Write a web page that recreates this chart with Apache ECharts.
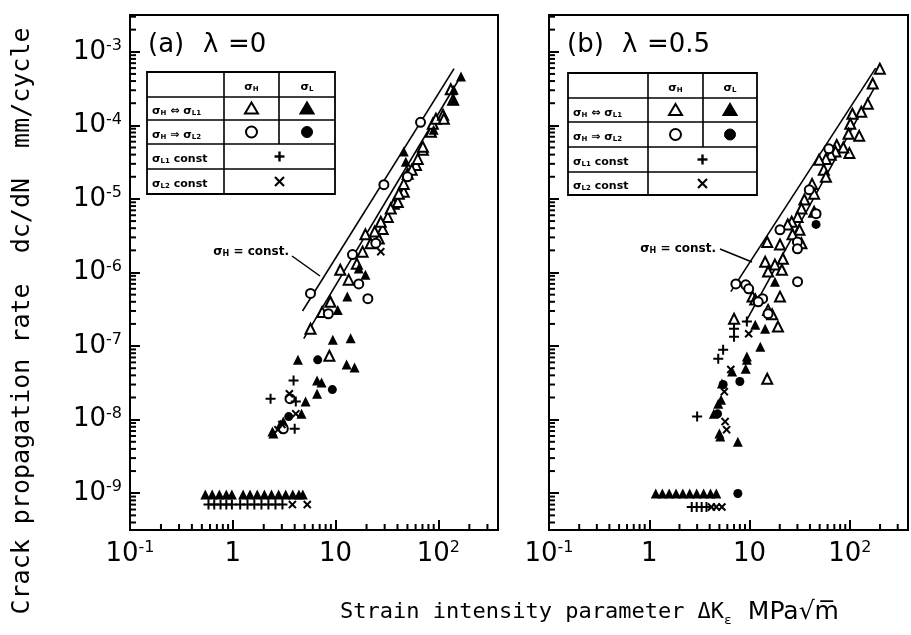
<!DOCTYPE html>
<html><head><meta charset="utf-8">
<script src="https://cdn.jsdelivr.net/npm/echarts@6/dist/echarts.min.js"></script>
<style>html,body{margin:0;padding:0;background:#fff}#c{width:911px;height:635px}</style>
</head><body><div id="c"></div>
<script>
// ---------- axis ticks ----------
const xTickValues = [0.1, 1, 10, 100];
const xTickLabels = ['{a|10}{b|-1}', '{a|1}', '{a|10}', '{a|10}{b|2}'];
const yTickValues = [1e-9, 1e-8, 1e-7, 1e-6, 1e-5, 1e-4, 1e-3];
const yTickLabels = ['{a|10}{b|-9}', '{a|10}{b|-8}', '{a|10}{b|-7}', '{a|10}{b|-6}', '{a|10}{b|-5}', '{a|10}{b|-4}', '{a|10}{b|-3}'];
const xRange = [0.1, 380];
const yRange = [3.162e-10, 3.162e-3];

// ---------- panel (a) lambda = 0 ----------
const aOpenTri = [[5.7,1.72e-7],[7.4,2.9e-7],[8.9,4.0e-7],[11.1,1.09e-6],[13.4,8.0e-7],[18.3,1.92e-6],[19.5,3.3e-6],[21.9,2.5e-6],[26.3,2.9e-6],[28.7,3.9e-6],[32.2,5.7e-6],[27.5,4.9e-6],[36.8,8.6e-6],[40.3,9.1e-6],[46,1.25e-5],[46,1.6e-5],[50.3,2.2e-5],[60.5,2.9e-5],[63,3.5e-5],[70.6,4.66e-5],[70.6,5.1e-5],[84.5,8.2e-5],[88.2,1.05e-4],[94.6,1.23e-4],[111,1.39e-4],[113,1.23e-4],[139,2.23e-4],[132,3.1e-4],[8.7,7.4e-8],[16.1,1.32e-6],[24,3.6e-6],[34.4,7.4e-6],[41.2,1.18e-5],[55,2.5e-5]];
const aFillTri = [[46,4.4e-5],[48.2,3.2e-5],[166,4.6e-4],[141,3.05e-4],[141,2.2e-4],[90,8.7e-5],[16.8,1.13e-6],[19.5,9.3e-7],[13,4.7e-7],[9.4,1.22e-7],[14,1.28e-7],[10.5,3.1e-7],[12.8,5.6e-8],[15.3,5.1e-8],[6.6,3.4e-8],[7.3,3.2e-8],[6.6,2.25e-8],[5.1,1.76e-8],[4.66,1.2e-8],[3.1,9.4e-9],[2.9,8.6e-9],[2.48,6.5e-9],[2.43,6.9e-9],[4.3,6.5e-8],
  [0.54,9.6e-10],[0.63,9.6e-10],[0.74,9.6e-10],[0.865,9.6e-10],[0.98,9.6e-10],[1.26,9.6e-10],[1.47,9.6e-10],[1.73,9.6e-10],[2.03,9.6e-10],[2.38,9.6e-10],[2.79,9.6e-10],[3.27,9.6e-10],[3.83,9.6e-10],[4.4,9.6e-10],[4.8,9.6e-10]];
const aOpenCirc = [[67,1.1e-4],[29.5,1.56e-5],[14.6,1.75e-6],[5.7,5.2e-7],[8.5,2.75e-7],[16.8,7.0e-7],[20.6,4.4e-7],[24.6,2.5e-6],[50,2.0e-5],[3.6,1.93e-8],[3.1,7.5e-9]];
const aFillCirc = [[6.7,6.5e-8],[9.3,2.56e-8],[3.5,1.1e-8]];
const aPlus = [[3.9,3.4e-8],[2.33,1.93e-8],[4.1,1.76e-8],[4.0,7.5e-9],
  [0.58,7.0e-10],[0.66,7.0e-10],[0.76,7.0e-10],[0.865,7.0e-10],[0.98,7.0e-10],[1.18,7.0e-10],[1.39,7.0e-10],[1.62,7.0e-10],[1.9,7.0e-10],[2.22,7.0e-10],[2.6,7.0e-10],[3.04,7.0e-10]];
const aCross = [[3.55,2.25e-8],[4.1,1.2e-8],[3.0,8.6e-9],[2.75,7.3e-9],[27.5,1.92e-6],[3.8,7.0e-10],[5.3,7.0e-10]];
const aLineUpper = [[4.77,3.0e-7],[142,5.9e-4]];
const aLineLower = [[4.9,1.26e-7],[158,4.2e-4]];

// ---------- panel (b) lambda = 0.5 ----------
const bOpenTri = [[199,5.9e-4],[169,3.7e-4],[151,1.96e-4],[130,1.53e-4],[106,1.44e-4],[101,1.05e-4],[97,7.7e-5],[124,7.2e-5],[99,4.2e-5],[74,5.4e-5],[86,5.0e-5],[72,4.4e-5],[64.5,4.0e-5],[57.7,3.5e-5],[49.3,3.4e-5],[55,2.5e-5],[57.7,2.0e-5],[42,1.6e-5],[44,1.18e-5],[35.2,9.8e-6],[32.9,7.4e-6],[30.1,5.7e-6],[26.3,4.9e-6],[24,4.5e-6],[44,6.7e-6],[31.5,3.8e-6],[26.8,3.3e-6],[32.9,2.5e-6],[15,2.6e-6],[20.1,2.4e-6],[14.3,1.4e-6],[17.9,1.28e-6],[15.3,1.03e-6],[21,1.09e-6],[21.5,1.54e-6],[20.1,4.7e-7],[10.7,4.7e-7],[11.4,4.3e-7],[15.3,3.1e-7],[16.8,2.7e-7],[7.0,2.35e-7],[19.2,1.84e-7],[15,3.6e-8]];
const bFillTri = [[17.9,7.5e-7],[12.8,9.8e-8],[9.4,7.2e-8],[11.4,1.95e-7],[14.3,1.72e-7],[9.15,4.9e-8],[9.4,6.5e-8],[6.7,4.5e-8],[5.3,3.1e-8],[5.2,1.87e-8],[4.87,1.65e-8],[4.4,1.2e-8],[5.0,6.5e-9],[5.1,5.9e-9],[7.64,5.0e-9],
  [1.16,9.9e-10],[1.35,9.9e-10],[1.58,9.9e-10],[1.85,9.9e-10],[2.16,9.9e-10],[2.53,9.9e-10],[2.97,9.9e-10],[3.48,9.9e-10],[4.08,9.9e-10],[4.66,9.9e-10]];
const bOpenCirc = [[61.7,4.8e-5],[39.4,1.33e-5],[46,6.3e-6],[30,2.6e-6],[20.1,3.8e-6],[30,2.1e-6],[30.1,7.5e-7],[7.3,7.0e-7],[9.15,6.8e-7],[9.8,6.0e-7],[13.5,4.4e-7],[12.2,4.0e-7],[15.3,2.75e-7]];
const bFillCirc = [[46,4.5e-6],[5.45,3.0e-8],[8.0,3.3e-8],[4.8,1.2e-8],[7.64,9.9e-10]];
const bPlus = [[7.0,1.72e-7],[7.0,1.34e-7],[9.4,2.15e-7],[5.45,8.9e-8],[4.87,6.7e-8],[3.0,1.1e-8],[2.65,6.5e-10],[2.97,6.5e-10],[3.33,6.5e-10],[3.72,6.5e-10]];
const bCross = [[9.8,1.47e-7],[6.5,4.8e-8],[5.6,2.4e-8],[5.7,9.4e-9],[5.9,7.3e-9],[4.17,6.5e-10],[4.66,6.5e-10],[5.3,6.5e-10]];
const bLineUpper = [[6.5,5.5e-7],[181,6.0e-4]];
const bLineLower = [[9.1,2.1e-7],[177,3.3e-4]];

// ---------- legend table text ----------
const legendHeader = ['{g|σ}{s|H}', '{g|σ}{s|L}'];
const legendRows = ['{g|σ}{s|H}{g| ⇔ σ}{s|L1}', '{g|σ}{s|H}{g| ⇒ σ}{s|L2}', '{g|σ}{s|L1}{g| const}', '{g|σ}{s|L2}{g| const}'];

// ---------- helpers ----------
const FONT = 'DejaVu Sans';
function fmt(vals, labels) {
  return function (v) {
    for (let i = 0; i < vals.length; i++) {
      if (Math.abs(Math.log10(v) - Math.log10(vals[i])) < 1e-6) return labels[i];
    }
    return '';
  };
}
const labelRich = {
  a: { fontSize: 26, fontFamily: FONT, color: '#000', lineHeight: 28 },
  b: { fontSize: 16, fontFamily: FONT, color: '#000', lineHeight: 16, verticalAlign: 'top' }
};
// minor tick positions: 2..9 x 10^k inside the axis range (axis construction)
function minorVals(lo, hi) {
  const out = [];
  for (let e = Math.floor(Math.log10(lo)) - 1; e <= Math.ceil(Math.log10(hi)); e++) {
    for (let m = 2; m <= 9; m++) { const v = m * Math.pow(10, e); if (v > lo * 1.0001 && v < hi * 0.9999) out.push(v); }
  }
  return out;
}
function minorSeries(gi, dir) {
  const vals = dir === 'x' ? minorVals(xRange[0], xRange[1]) : minorVals(yRange[0], yRange[1]);
  return {
    type: 'scatter', xAxisIndex: gi, yAxisIndex: gi, silent: true, z: 6, clip: false,
    data: vals.map(v => dir === 'x' ? [v, yRange[0]] : [xRange[0], v]),
    symbol: 'rect',
    symbolSize: dir === 'x' ? [2, 6] : [6, 2],
    symbolOffset: dir === 'x' ? [0, -3] : [3, 0],
    itemStyle: { color: '#000', opacity: 1 }
  };
}
const PLUS = 'path://M4,0H6V4H10V6H6V10H4V6H0V4H4Z';
function scat(gi, data, symbol, filled, size, rot) {
  return {
    type: 'scatter', xAxisIndex: gi, yAxisIndex: gi, data: data, symbol: symbol, symbolSize: size,
    symbolRotate: rot || 0, z: 4, silent: true,
    itemStyle: filled ? { color: '#000', opacity: 1 } : { color: '#fff', borderColor: '#000', borderWidth: 2, opacity: 1 }
  };
}
function fitLine(gi, data) {
  return { type: 'line', xAxisIndex: gi, yAxisIndex: gi, data: data, symbol: 'none', silent: true, z: 3,
    lineStyle: { color: '#000', width: 1.6 } };
}
function xAx(gi) {
  return {
    type: 'log', logBase: 10, gridIndex: gi, min: xRange[0], max: xRange[1],
    axisLine: { show: true, lineStyle: { color: '#000', width: 2 } },
    axisTick: { show: true, inside: true, length: 10, lineStyle: { color: '#000', width: 2 } },
    axisLabel: { show: true, margin: 10, formatter: fmt(xTickValues, xTickLabels), rich: labelRich, color: '#000' },
    splitLine: { show: false }
  };
}
function yAx(gi, showLabel) {
  return {
    type: 'log', logBase: 10, gridIndex: gi, min: yRange[0], max: yRange[1],
    axisLine: { show: true, lineStyle: { color: '#000', width: 2 } },
    axisTick: { show: true, inside: true, length: 10, lineStyle: { color: '#000', width: 2 } },
    axisLabel: { show: showLabel, margin: 8, formatter: fmt(yTickValues, yTickLabels), rich: labelRich, color: '#000' },
    splitLine: { show: false }
  };
}
function table(L, T, R, B, c1, c2, rows) {
  const els = [];
  const ln = (x1, y1, x2, y2, w) => els.push({ type: 'line', z: 20, shape: { x1, y1, x2, y2 }, style: { stroke: '#000', lineWidth: w || 1.6 } });
  els.push({ type: 'rect', z: 19, shape: { x: L, y: T, width: R - L, height: B - T }, style: { fill: '#fff', stroke: '#000', lineWidth: 1.8 } });
  rows.forEach(y => ln(L, y, R, y));
  ln(c1, T, c1, B); ln(c2, T, c2, rows[2]);
  const ys = [T].concat(rows).concat([B]);
  const cy = i => (ys[i] + ys[i + 1]) / 2;
  const cA = (c1 + c2) / 2, cB = (c2 + R) / 2, cM = (c1 + R) / 2;
  const rich = {
    g: { fontSize: 11, fontWeight: 'bold', fontFamily: FONT, fill: '#000' },
    s: { fontSize: 7, fontWeight: 'bold', fontFamily: FONT, fill: '#000', verticalAlign: 'bottom', padding: [4, 0, 0, 0] }
  };
  const txt = (x, y, t, align) => els.push({ type: 'text', z: 21, x: x, y: y, style: { text: t, rich: rich, align: align, verticalAlign: 'middle', fill: '#000' } });
  txt(cA, cy(0) + 3, legendHeader[0], 'center');
  txt(cB, cy(0) + 3, legendHeader[1], 'center');
  legendRows.forEach((t, i) => txt(L + 5, cy(i + 1) + 3, t, 'left'));
  const tri = (x, y, fill) => els.push({ type: 'polygon', z: 21, shape: { points: [[x, y - 6], [x + 6.5, y + 5], [x - 6.5, y + 5]] }, style: { fill: fill, stroke: '#000', lineWidth: 2 } });
  tri(cA, cy(1), '#fff'); tri(cB, cy(1), '#000');
  els.push({ type: 'circle', z: 21, shape: { cx: cA, cy: cy(2), r: 5.5 }, style: { fill: '#fff', stroke: '#000', lineWidth: 2 } });
  els.push({ type: 'circle', z: 21, shape: { cx: cB, cy: cy(2), r: 5.5 }, style: { fill: '#000', stroke: '#000', lineWidth: 1 } });
  ln(cM - 5, cy(3), cM + 5, cy(3), 2.4); ln(cM, cy(3) - 5, cM, cy(3) + 5, 2.4);
  ln(cM - 4.5, cy(4) - 4.5, cM + 4.5, cy(4) + 4.5, 2.2); ln(cM - 4.5, cy(4) + 4.5, cM + 4.5, cy(4) - 4.5, 2.2);
  return els;
}
function constLabel(xr, y, lx1, ly1, lx2, ly2) {
  return [
    { type: 'text', z: 21, x: xr, y: y, style: { text: '{g|σ}{s|H}{g| = const.}', align: 'right', verticalAlign: 'middle', fill: '#000',
      rich: { g: { fontSize: 12, fontWeight: 'bold', fontFamily: FONT, fill: '#000' }, s: { fontSize: 8, fontWeight: 'bold', fontFamily: FONT, fill: '#000', verticalAlign: 'bottom' } } } },
    { type: 'line', z: 21, shape: { x1: lx1, y1: ly1, x2: lx2, y2: ly2 }, style: { stroke: '#000', lineWidth: 1.5 } }
  ];
}
function panelLabel(x, tag, lam) {
  return [
    { type: 'text', z: 21, x: x, y: 45, style: { text: tag, fontSize: 26, fontFamily: FONT, fill: '#000', verticalAlign: 'middle' } },
    { type: 'text', z: 21, x: x + 55, y: 45, style: { text: 'λ', fontSize: 26, fontFamily: FONT, fill: '#000', verticalAlign: 'middle' } },
    { type: 'text', z: 21, x: x + 80, y: 45, style: { text: lam, fontSize: 26, fontFamily: FONT, fill: '#000', verticalAlign: 'middle' } }
  ];
}

const chart = echarts.init(document.getElementById('c'), null, { renderer: 'canvas' });
const graphic = []
  .concat(table(147, 72, 335, 194, 224, 279, [97, 120, 144, 169]))
  .concat(table(568, 73, 757, 195, 648, 703, [98, 122, 147, 172]))
  .concat(constLabel(289, 252, 292, 256, 320, 276))
  .concat(constLabel(716, 249, 720, 249, 752, 262))
  .concat(panelLabel(148, '(a)', '=0'))
  .concat(panelLabel(567, '(b)', '=0.5'))
  .concat([
    { type: 'text', z: 21, x: 22, y: 321, rotation: Math.PI / 2,
      style: { text: 'Crack propagation rate  dc/dN  mm/cycle', fontSize: 25, fontFamily: 'DejaVu Sans Mono', fill: '#000', align: 'center', verticalAlign: 'middle' } },
    { type: 'text', z: 21, x: 340, y: 612,
      style: { text: '{t|Strain intensity parameter ΔK}{e|ε}{u|  MPa√m\u0305}', align: 'left', verticalAlign: 'middle', fill: '#000',
        rich: { t: { fontSize: 22, fontFamily: 'DejaVu Sans Mono', fill: '#000', lineHeight: 30 },
                e: { fontSize: 13, fontFamily: 'DejaVu Sans Mono', fill: '#000', verticalAlign: 'bottom', lineHeight: 18 },
                u: { fontSize: 25, fontFamily: 'DejaVu Sans', fill: '#000', lineHeight: 30 } } } }
  ]);

chart.setOption({
  animation: false,
  backgroundColor: '#fff',
  grid: [
    { left: 130, top: 15, width: 368, height: 515, show: true, borderColor: '#000', borderWidth: 2, backgroundColor: 'transparent' },
    { left: 549, top: 15, width: 368, height: 515, show: true, borderColor: '#000', borderWidth: 2, backgroundColor: 'transparent' }
  ],
  xAxis: [xAx(0), xAx(1)],
  yAxis: [yAx(0, true), yAx(1, false)],
  series: [
    fitLine(0, aLineUpper), fitLine(0, aLineLower),
    fitLine(1, bLineUpper), fitLine(1, bLineLower),
    scat(0, aOpenTri, 'triangle', false, 10), scat(0, aFillTri, 'triangle', true, 10),
    scat(0, aOpenCirc, 'circle', false, 9), scat(0, aFillCirc, 'circle', true, 9),
    scat(0, aPlus, PLUS, true, 10), scat(0, aCross, PLUS, true, 10, 45),
    scat(1, bOpenTri, 'triangle', false, 10), scat(1, bFillTri, 'triangle', true, 10),
    scat(1, bOpenCirc, 'circle', false, 9), scat(1, bFillCirc, 'circle', true, 9),
    scat(1, bPlus, PLUS, true, 10), scat(1, bCross, PLUS, true, 10, 45),
    minorSeries(0, 'x'), minorSeries(0, 'y'), minorSeries(1, 'x'), minorSeries(1, 'y')
  ],
  graphic: graphic
});
</script></body></html>
